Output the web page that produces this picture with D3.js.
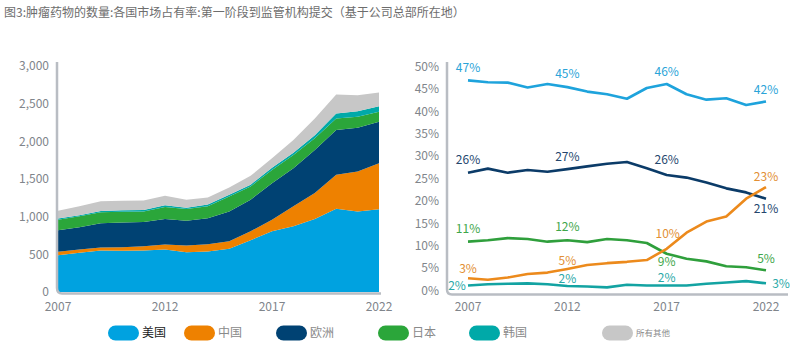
<!DOCTYPE html>
<html>
<head>
<meta charset="utf-8">
<script src="https://cdn.jsdelivr.net/npm/d3@7"></script>
<style>
  body { margin: 0; background: #fff; }
  svg { display: block; font-family: "Noto Sans CJK SC", "Open Sans", sans-serif; }
</style>
</head>
<body>
<div id="container"></div>
<script>
/* DATA */
const years = [2007, 2008, 2009, 2010, 2011, 2012, 2013, 2014, 2015, 2016, 2017, 2018, 2019, 2020, 2021, 2022];
const regions = ["美国", "中国", "欧洲", "日本", "韩国", "所有其他"];

// drug counts per region (left stacked area)
const usaCount = [489, 520, 550, 546, 550, 564, 529, 537, 573, 687, 806, 872, 969, 1106, 1070, 1097];
const chinaCount = [44, 44, 40, 49, 58, 66, 88, 97, 101, 119, 154, 265, 344, 449, 529, 612];
const europeCount = [286, 295, 322, 326, 322, 339, 330, 344, 396, 419, 485, 506, 572, 595, 582, 551];
const japanCount = [141, 145, 145, 145, 140, 159, 154, 159, 199, 176, 176, 176, 155, 154, 145, 132];
const koreaCount = [15, 16, 18, 19, 20, 22, 19, 23, 21, 24, 29, 31, 40, 66, 74, 73];
const otherCount = [104, 117, 128, 126, 126, 128, 105, 96, 98, 117, 125, 168, 224, 251, 212, 183];

// market share % (right line chart)
const usaShare = [46.9, 46.5, 46.4, 45.3, 46.1, 45.4, 44.4, 43.8, 42.8, 45.2, 46.1, 43.8, 42.6, 42.9, 41.4, 42.2];
const europeShare = [26.3, 27.2, 26.3, 26.9, 26.5, 27.1, 27.7, 28.3, 28.7, 27.3, 25.8, 25.2, 24.1, 22.8, 21.9, 20.5];
const chinaShare = [2.75, 2.4, 2.9, 3.7, 4.0, 4.8, 5.7, 6.1, 6.4, 6.8, 9.3, 12.9, 15.4, 16.5, 20.5, 23.1];
const japanShare = [10.9, 11.2, 11.7, 11.5, 10.9, 11.2, 10.8, 11.5, 11.2, 10.6, 8.2, 7.1, 6.5, 5.4, 5.2, 4.5];
const koreaShare = [1.1, 1.4, 1.5, 1.6, 1.4, 1.0, 0.9, 0.7, 1.3, 1.1, 1.1, 1.1, 1.5, 1.8, 2.1, 1.6];

const countTicks = [0, 500, 1000, 1500, 2000, 2500, 3000];
const shareTicks = [0, 5, 10, 15, 20, 25, 30, 35, 40, 45, 50];
const yearTicks = [2007, 2012, 2017, 2022];

// value labels on the share chart: [series, year, text, dx, dy]
const shareLabels = [
  ["美国", 2007, "47%", 0, -13], ["美国", 2012, "45%", 0, -13], ["美国", 2017, "46%", 0, -12], ["美国", 2022, "42%", 0, -12],
  ["欧洲", 2007, "26%", 0, -13], ["欧洲", 2012, "27%", 0, -12], ["欧洲", 2017, "26%", 0, -15], ["欧洲", 2022, "21%", 0, 10],
  ["中国", 2007, "3%", 0, -9], ["中国", 2012, "5%", 0, -8], ["中国", 2017, "10%", 1, -15], ["中国", 2022, "23%", 0, -10],
  ["日本", 2007, "11%", 0, -13], ["日本", 2012, "12%", 0, -14], ["日本", 2017, "9%", 0, 8], ["日本", 2022, "5%", 0, -12],
  ["韩国", 2007, "2%", -11, 0], ["韩国", 2012, "2%", 0, -7], ["韩国", 2017, "2%", 0, -8], ["韩国", 2022, "3%", 15, 0]
];

/* STYLE */
const areaColors = { "美国": "#00a2e0", "中国": "#ee8100", "欧洲": "#004273", "日本": "#2ba63a", "韩国": "#00a9a8", "所有其他": "#c7c7c7" };
const lineColors = { "美国": "#1ea3dc", "中国": "#ec8a1c", "欧洲": "#0b3b68", "日本": "#2f9f3c", "韩国": "#13a3a2" };
const labelColors = { "美国": "#2aa4d8", "中国": "#e28f34", "欧洲": "#24466d", "日本": "#3ea64a", "韩国": "#2aa9a8" };
const axisColor = "#b9bdc3", tickColor = "#80858b";

const width = 800, height = 352;

const svg = d3.select("#container").append("svg")
  .attr("width", width)
  .attr("height", height);

// TITLE
svg.append("text")
  .attr("x", 4).attr("y", 17)
  .attr("font-size", 12)
  .attr("fill", "#6d6d6d")
  .text("图3:肿瘤药物的数量:各国市场占有率:第一阶段到监管机构提交（基于公司总部所在地）");

/* LEFT: STACKED AREA */
const countRows = years.map((y, i) => ({
  year: y,
  "美国": usaCount[i], "中国": chinaCount[i], "欧洲": europeCount[i],
  "日本": japanCount[i], "韩国": koreaCount[i], "所有其他": otherCount[i]
}));

const xL = d3.scaleLinear().domain([2007, 2022]).range([58, 379]);
const yL = d3.scaleLinear().domain([0, 3000]).range([292, 66]);

const stacked = d3.stack().keys(regions)(countRows);
const area = d3.area()
  .x(d => xL(d.data.year))
  .y0(d => yL(d[0]))
  .y1(d => yL(d[1]));

svg.append("g").selectAll("path")
  .data(stacked)
  .join("path")
  .attr("fill", d => areaColors[d.key])
  .attr("d", area);

// axis frame with rounded corner
svg.append("path")
  .attr("d", `M${xL(2007) - 1},62 V${yL(0) - 4} Q${xL(2007) - 1},${yL(0) + 1.5} ${xL(2007) + 4},${yL(0) + 1.5} H${xL(2022) + 2}`)
  .attr("fill", "none")
  .attr("stroke", axisColor)
  .attr("stroke-width", 2.5);

svg.append("g").selectAll("text")
  .data(countTicks)
  .join("text")
  .attr("x", 49).attr("y", d => yL(d))
  .attr("dy", "0.35em")
  .attr("text-anchor", "end")
  .attr("font-size", 12)
  .attr("fill", tickColor)
  .text(d => d3.format(",")(d));

svg.append("g").selectAll("text")
  .data(yearTicks)
  .join("text")
  .attr("x", d => xL(d)).attr("y", 311)
  .attr("text-anchor", "middle")
  .attr("font-size", 12)
  .attr("fill", tickColor)
  .text(d => d);

/* RIGHT: SHARE LINES */
const shareSeries = [
  { key: "美国", values: usaShare },
  { key: "欧洲", values: europeShare },
  { key: "日本", values: japanShare },
  { key: "中国", values: chinaShare },
  { key: "韩国", values: koreaShare }
];

const xR = d3.scaleLinear().domain([2007, 2022]).range([468, 766]);
const yR = d3.scaleLinear().domain([0, 50]).range([290.5, 66.5]);

svg.append("path")
  .attr("d", `M447,62 V${yR(0) - 1} Q447,${yR(0) + 4} 452,${yR(0) + 4} H788`)
  .attr("fill", "none")
  .attr("stroke", axisColor)
  .attr("stroke-width", 2.5);

svg.append("g").selectAll("text")
  .data(shareTicks)
  .join("text")
  .attr("x", 439).attr("y", d => yR(d))
  .attr("dy", "0.35em")
  .attr("text-anchor", "end")
  .attr("font-size", 12)
  .attr("fill", tickColor)
  .text(d => d + "%");

svg.append("g").selectAll("text")
  .data(yearTicks)
  .join("text")
  .attr("x", d => xR(d)).attr("y", 311)
  .attr("text-anchor", "middle")
  .attr("font-size", 12)
  .attr("fill", tickColor)
  .text(d => d);

const line = d3.line()
  .x((d, i) => xR(years[i]))
  .y(d => yR(d));

svg.append("g").selectAll("path")
  .data(shareSeries)
  .join("path")
  .attr("fill", "none")
  .attr("stroke", d => lineColors[d.key])
  .attr("stroke-width", 2.6)
  .attr("stroke-linejoin", "round")
  .attr("d", d => line(d.values));

const seriesByKey = Object.fromEntries(shareSeries.map(s => [s.key, s.values]));
svg.append("g").selectAll("text")
  .data(shareLabels)
  .join("text")
  .attr("x", d => xR(d[1]) + d[3])
  .attr("y", d => yR(seriesByKey[d[0]][years.indexOf(d[1])]) + d[4])
  .attr("dy", "0.35em")
  .attr("text-anchor", "middle")
  .attr("font-size", 12)
  .attr("fill", d => labelColors[d[0]])
  .text(d => d[2]);

/* LEGEND */
const legendX = [108, 184, 276, 378, 469, 602];
const legend = svg.append("g").selectAll("g")
  .data(regions)
  .join("g")
  .attr("transform", (d, i) => `translate(${legendX[i]}, 333)`);

legend.append("rect")
  .attr("x", 0).attr("y", -7.5)
  .attr("width", 31).attr("height", 15)
  .attr("rx", 7.5)
  .attr("fill", d => areaColors[d]);

legend.append("text")
  .attr("x", 34).attr("y", 0)
  .attr("dy", "0.35em")
  .attr("font-size", d => d === "所有其他" ? 8.5 : 12)
  .attr("fill", d => d === "美国" ? "#222" : "#8a8a8a")
  .text(d => d);
</script>
</body>
</html>
